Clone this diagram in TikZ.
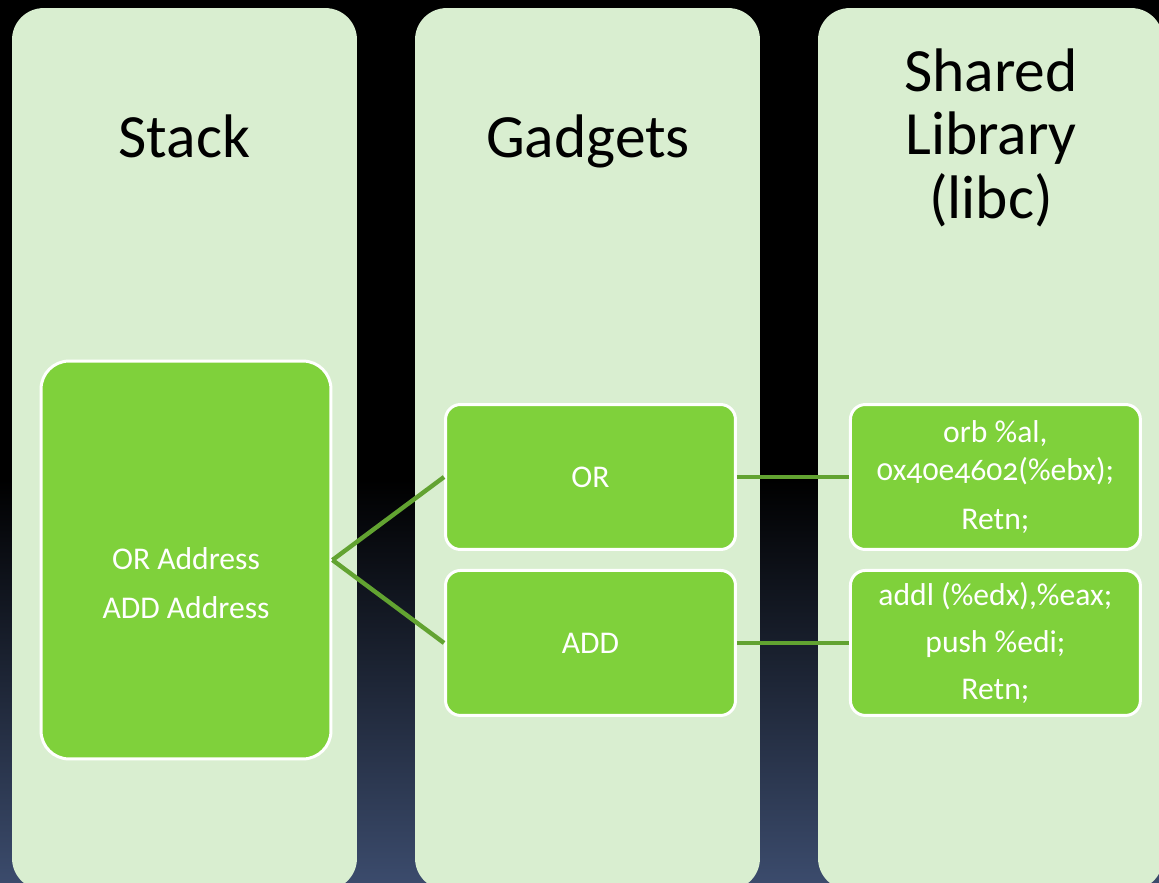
\documentclass[tikz,border=0pt]{standalone}
\usepackage{fontspec}
\setmainfont[Numbers=OldStyle]{Carlito}
\usetikzlibrary{positioning}

\definecolor{colfill}{RGB}{217,238,208}
\definecolor{boxgreen}{RGB}{127,209,59}
\definecolor{linkgreen}{RGB}{98,163,49}
\definecolor{bgmid}{RGB}{24,30,44}
\definecolor{bgblue}{RGB}{59,75,108}

\begin{document}
\begin{tikzpicture}[
        x=0.02cm, y=-0.02cm,
        column/.style={rectangle, fill=colfill, rounded corners=18pt, minimum width=6.9cm, minimum height=17.64cm, inner sep=0pt},
        title/.style={font=\fontsize{35}{36}\selectfont, align=center, text=black, inner sep=0pt},
        box/.style={rectangle, draw=white, line width=1.7pt, fill=boxgreen, rounded corners=8.5pt, minimum width=5.8cm, minimum height=2.9cm, text=white, align=center, font=\fontsize{18}{21.6}\selectfont, inner sep=0pt},
        boxtext/.style={text=white, align=center, font=\fontsize{18}{21.6}\selectfont, inner sep=0pt},
        link/.style={draw=linkgreen, line width=2.5pt}
    ]

    % backdrop: black fading to slate blue
    \fill[black] (0,0) rectangle (1159,480);
    \shade[top color=black, middle color=bgmid, bottom color=bgblue] (0,480) rectangle (1159,882);
    \useasboundingbox (0,0) rectangle (1159,882);

    % the three columns
    \node[column] (stackcol) at (184.5,449) {};
    \node[column] (gadgetcol) at (587.5,449) {};
    \node[column] (libcol) at (990.5,449) {};

    \node[title, anchor=base] (stacktitle) at (184.5,157) {Stack};
    \node[title, anchor=base] (gadgettitle) at (588,157) {Gadgets};
    \node[title, anchor=base] (libtitle) at (991,218) {Shared\\Library\\(libc)};

    % stack frame
    \node[box, minimum height=7.96cm, rounded corners=16pt] (stack) at (186,560) {};
    \node[boxtext] (stacktext) at (186,583) {OR Address\\[6.2pt]ADD Address};

    % gadgets and the code they point into
    \node[box] (or) at (590.5,477) {OR};
    \node[box, below=0.36cm of or] (add) {ADD};
    \node[box, right=2.24cm of or] (orlib) {orb \%al,\\0x40e4602(\%ebx);\\[6pt]Retn;};
    \node[box, right=2.24cm of add] (addlib) {addl (\%edx),\%eax;\\[5pt]push \%edi;\\[5pt]Retn;};

    \draw[link] (stack.east) -- (or.west);
    \draw[link] (stack.east) -- (add.west);
    \draw[link] (or) -- (orlib);
    \draw[link] (add) -- (addlib);

\end{tikzpicture}
\end{document}
